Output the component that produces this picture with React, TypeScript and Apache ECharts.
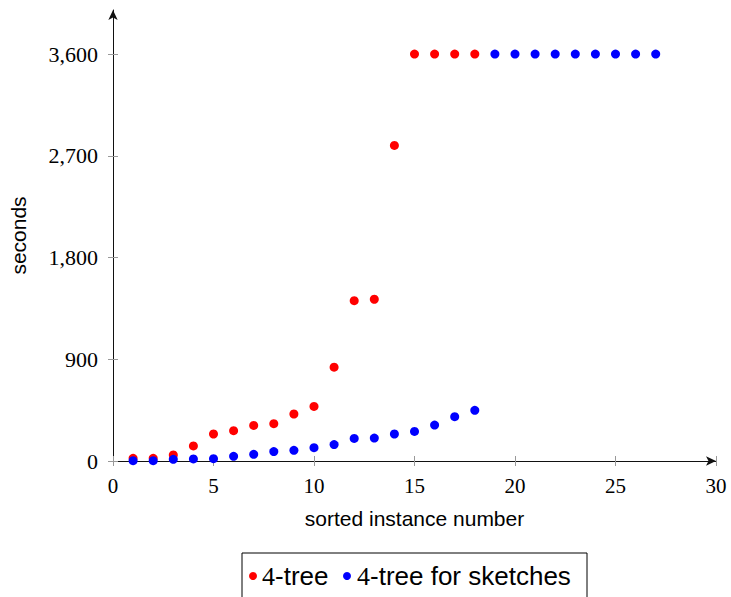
import React, { useEffect, useRef } from "react";
import * as echarts from "echarts";

const treeInstances = [1, 2, 3, 4, 5, 6, 7, 8, 9, 10, 11, 12, 13, 14, 15, 16, 17, 18];
const treeSeconds = [24, 24, 53, 133, 239, 268, 315, 330, 416, 483, 830, 1418, 1431, 2792, 3600, 3600, 3600, 3600];
const sketchInstances = [1, 2, 3, 4, 5, 6, 7, 8, 9, 10, 11, 12, 13, 14, 15, 16, 17, 18, 19, 20, 21, 22, 23, 24, 25, 26, 27];
const sketchSeconds = [3, 3, 15, 18, 21, 41, 59, 83, 94, 118, 145, 200, 203, 239, 262, 318, 392, 448, 3600, 3600, 3600, 3600, 3600, 3600, 3600, 3600, 3600];
const xTicks = [0, 5, 10, 15, 20, 25, 30];
const yTicks = [0, 900, 1800, 2700, 3600];
const seriesNames = ["4-tree", "4-tree for sketches"];
const seriesColors = ["#ff0000", "#0000ff"];

export default function App() {
  const ref = useRef<HTMLDivElement>(null);
  useEffect(() => {
    if (!ref.current) return;
    const chart = echarts.init(ref.current, null, { renderer: "svg" });
    const serif = "Liberation Serif";
    const sans = "Liberation Sans";
    const tickColor = "#999";
    const legendRich = {
      n: { fontFamily: serif, fontSize: 26, fill: "#000" },
      s: { fontFamily: sans, fontSize: 26, fill: "#000" },
    };
    const legendDotX = [253, 347];
    const legendTextX = [262, 357];
    const legendY = 576;
    chart.setOption({
      animation: false,
      backgroundColor: "#fff",
      grid: { left: 112, right: 15, top: 10, bottom: 136, containLabel: false },
      xAxis: [
        {
          type: "value",
          min: 0,
          max: 30,
          position: "bottom",
          name: "sorted instance number",
          nameLocation: "middle",
          nameGap: 47,
          nameTextStyle: { fontFamily: sans, fontSize: 21, color: "#000" },
          axisLine: { show: true, lineStyle: { color: "#111", width: 1 }, symbol: ["none", "arrow"], symbolSize: [7, 10] },
          axisTick: { show: true, length: 5, customValues: xTicks, lineStyle: { color: tickColor } },
          axisLabel: { customValues: xTicks, margin: 14, fontFamily: serif, fontSize: 21, color: "#000" },
          splitLine: { show: false },
        },
        {
          type: "value",
          min: 0,
          max: 30,
          position: "bottom",
          axisLine: { show: false },
          axisTick: { show: true, inside: true, length: 5, customValues: xTicks, lineStyle: { color: tickColor } },
          axisLabel: { show: false },
          splitLine: { show: false },
        },
      ],
      yAxis: [
        {
          type: "value",
          min: 0,
          max: 3990,
          position: "left",
          name: "seconds",
          nameLocation: "middle",
          nameGap: 84,
          nameRotate: 90,
          nameTextStyle: { fontFamily: sans, fontSize: 21, color: "#000" },
          axisLine: { show: true, lineStyle: { color: "#111", width: 1 }, symbol: ["none", "arrow"], symbolSize: [7, 10] },
          axisTick: { show: true, length: 5, customValues: yTicks, lineStyle: { color: tickColor } },
          axisLabel: {
            customValues: yTicks,
            margin: 15,
            fontFamily: serif,
            fontSize: 22,
            color: "#000",
            formatter: (v: number) => v.toLocaleString("en-US"),
          },
          splitLine: { show: false },
        },
        {
          type: "value",
          min: 0,
          max: 3990,
          position: "left",
          axisLine: { show: false },
          axisTick: { show: true, inside: true, length: 5, customValues: yTicks, lineStyle: { color: tickColor } },
          axisLabel: { show: false },
          splitLine: { show: false },
        },
      ],
      graphic: [
        {
          type: "rect",
          shape: { x: 242, y: 553, width: 345, height: 60 },
          style: { fill: "#fff", stroke: "#000", lineWidth: 1 },
          z: 10,
        },
        ...seriesNames.flatMap((name, i) => [
          {
            type: "circle",
            shape: { cx: legendDotX[i], cy: legendY, r: 4 },
            style: { fill: seriesColors[i] },
            z: 11,
          },
          {
            type: "text",
            x: legendTextX[i],
            y: legendY,
            z: 11,
            style: {
              text: `{n|${name.slice(0, 1)}}{s|${name.slice(1)}}`,
              rich: legendRich,
              verticalAlign: "middle",
              align: "left",
              fill: "#000",
            },
          },
        ]),
      ],
      series: [
        {
          name: seriesNames[0],
          type: "scatter",
          symbol: "circle",
          symbolSize: 9,
          itemStyle: { color: seriesColors[0], opacity: 1 },
          data: treeInstances.map((x, i) => [x, treeSeconds[i]]),
        },
        {
          name: seriesNames[1],
          type: "scatter",
          symbol: "circle",
          symbolSize: 9,
          itemStyle: { color: seriesColors[1], opacity: 1 },
          data: sketchInstances.map((x, i) => [x, sketchSeconds[i]]),
        },
      ],
    });
    return () => chart.dispose();
  }, []);
  return (
    <div
      ref={ref}
      style={{ position: "fixed", left: 0, top: 0, width: 731, height: 597, background: "#fff" }}
    />
  );
}
